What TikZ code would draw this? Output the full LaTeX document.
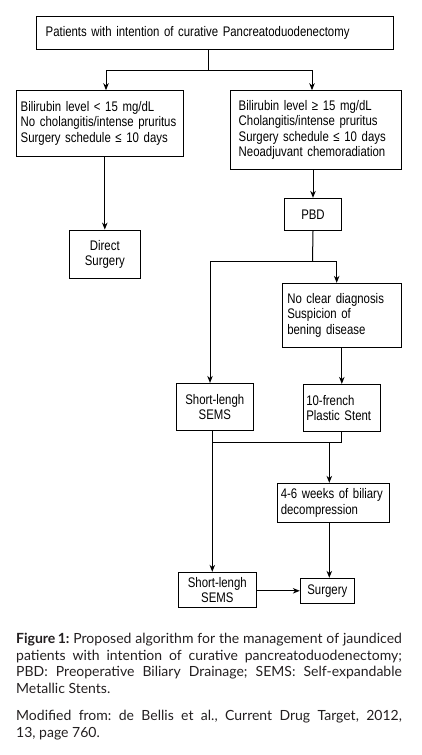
\documentclass[tikz,border=0pt]{standalone}
\usepackage{fontspec}
\setmainfont{Liberation Sans}
\newfontfamily\boxfont[FakeStretch=0.82]{Liberation Sans}
\newfontfamily\capfont{Lato}
\usetikzlibrary{arrows.meta}
\definecolor{captext}{HTML}{231F20}
\tikzset
  {box/.style={draw=black, line width=0.9pt, rectangle, inner sep=0pt,
               font=\boxfont\fontsize{13.9}{15.3}\selectfont},
   cbox/.style={box, align=center},
   link/.style={draw=black, line width=1pt},
   arrow/.style={link, -{Stealth[length=7pt,width=5.5pt,inset=2.2pt]}}}
\newcommand{\figlab}[1]{\textbf{#1}}

\begin{document}
\frenchspacing
\begin{tikzpicture}[x=1pt,y=-1pt]
 \useasboundingbox (0,0) rectangle (421,755);

 \draw (214.8,32.7) node[box,text width=338.3pt,inner xsep=9pt,minimum height=33.3pt,align=left] (top)
              {Patients with intention of curative Pancreatoduodenectomy};

 \draw (100,123.3) node[box,text width=158.6pt,inner xsep=4pt,minimum height=65.3pt,align=left] (low)
              {Bilirubin level < 15 mg/dL\\
               \mbox{No cholangitis/intense pruritus}\\
               Surgery schedule ≤ 10 days};

 \draw (316.2,129.8) node[box,text width=155pt,inner xsep=8pt,minimum height=78.3pt,align=left] (high)
              {Bilirubin level ≥ 15 mg/dL\\
               Cholangitis/intense pruritus\\
               Surgery schedule ≤ 10 days\\
               Neoadjuvant chemoradiation};

 \draw (104.8,254.2) node[cbox,minimum width=71pt,minimum height=48.3pt] (direct)
              {Direct\\ Surgery};

 \draw (313,214.5) node[cbox,minimum width=57.4pt,minimum height=32.4pt] (pbd) {PBD};

 \draw (342,315.3) node[box,text width=109.4pt,inner xsep=5pt,minimum height=64pt,align=left] (unclear)
              {No clear diagnosis\\
               Suspicion of\\
               bening disease};

 \draw (214.8,406.7) node[cbox,minimum width=77pt,minimum height=46.7pt] (semsA)
              {Short-lengh\\ SEMS};

 \draw (341.8,407.7) node[box,text width=71pt,inner xsep=3pt,minimum height=46.7pt,align=left] (plastic)
              {10-french\\ Plastic Stent};

 \draw (333.3,502.8) node[box,text width=105pt,inner xsep=3.5pt,minimum height=39pt,align=left] (weeks)
              {\mbox{4-6 weeks of biliary}\\ decompression};

 \draw (217.3,589.8) node[cbox,minimum width=78pt,minimum height=35pt] (semsB)
              {Short-lengh\\ SEMS};

 \draw (327.3,590.8) node[cbox,minimum width=54pt,minimum height=25pt] (surgery) {Surgery};

 % connectors
 \coordinate (fork1) at (208,70);
 \coordinate (fork2) at (312.5,261.7);
 \coordinate (fork3) at (329.3,442.3);

 \draw[link] (top.south -| fork1) -- (fork1);
 \draw[arrow] (fork1) -| ([xshift=6pt]low.north);
 \draw[arrow] (fork1) -| ([xshift=-4.2pt]high.north);
 \draw[arrow] (direct.north |- low.south) -- (direct.north);
 \draw[arrow] (pbd.north |- high.south) -- (pbd.north);

 \draw[link] (pbd.south) -- (fork2);
 \draw[arrow] (fork2) -| ([xshift=-5.3pt]unclear.north);
 \draw[arrow] (fork2) -| ([xshift=-4.8pt]semsA.north);
 \draw[arrow] (plastic.north |- unclear.south) -- (plastic.north);

 \draw[arrow] ([xshift=-2.5pt]semsA.south) -- ([xshift=-5pt]semsB.north);
 \draw[link] ([xshift=-2.5pt]semsA.south |- fork3) -| (plastic.south);
 \draw[arrow] (fork3) -- (weeks.north -| fork3);
 \draw[arrow] (weeks.south -| fork3) -- (surgery.north -| fork3);
 \draw[arrow] (semsB.east |- surgery.west) -- (surgery.west);

 % caption
 \node[anchor=north west,inner sep=0pt,text width=385.7pt,align=justify,text=captext,
       font=\capfont\fontsize{14}{16.7}\selectfont] (caption) at (16,633)
      {\figlab{Figure\,1:} Proposed algorithm for the management of jaundiced\linebreak
       patients with intention of curative pancreatoduodenectomy;\linebreak
       PBD: Preoperative Biliary Drainage; SEMS: Self-expandable\linebreak
       Metallic Stents.\par\vspace{10pt}
       Modified from: de Bellis et al., Current Drug Target, 2012,\linebreak
       13, page 760.};
\end{tikzpicture}
\end{document}
